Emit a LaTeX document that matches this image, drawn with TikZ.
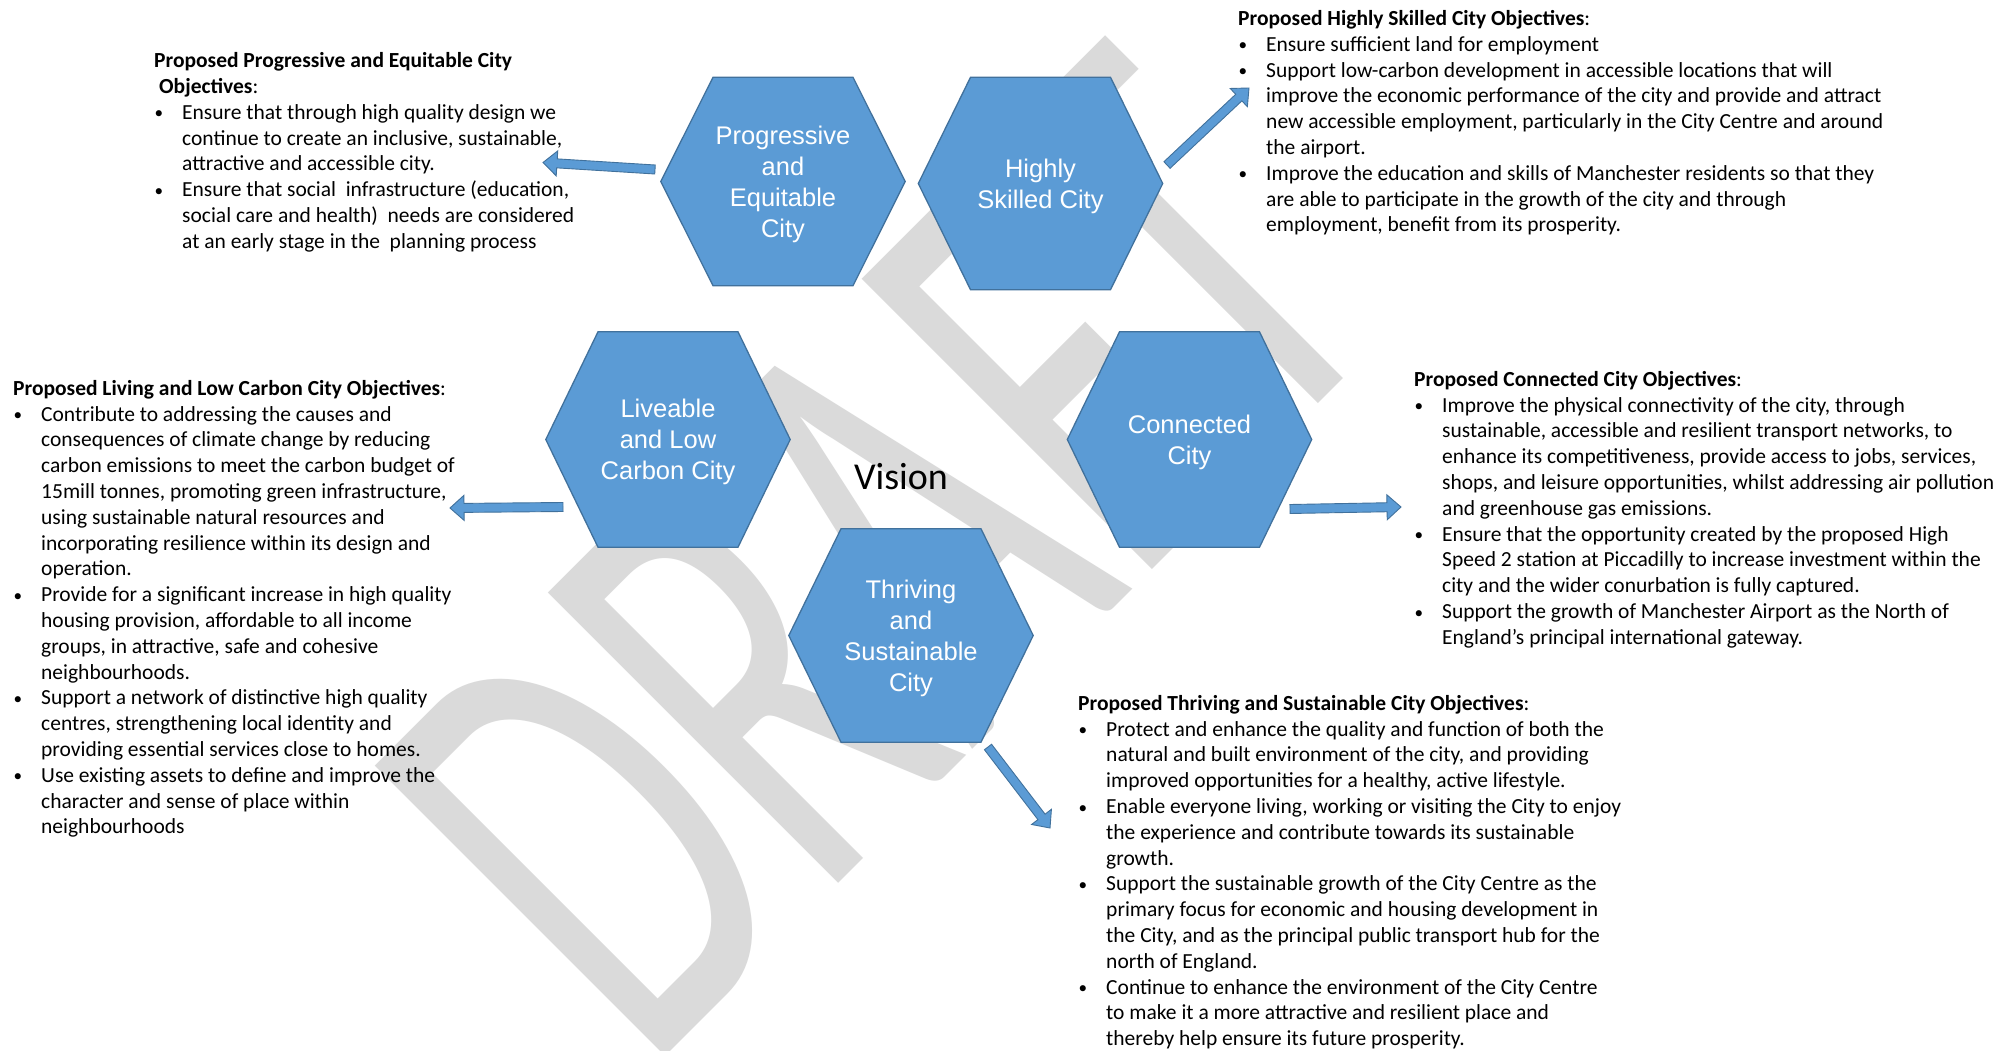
\documentclass[tikz,border=0pt]{standalone}
\usepackage{graphicx}
\usepackage{fontspec}
\setmainfont{Carlito}
\newfontfamily\hexfont{Liberation Sans}
\usetikzlibrary{calc}

\definecolor{hexblue}{HTML}{5B9BD5}
\definecolor{hexedge}{HTML}{41719C}
\definecolor{wmgray}{HTML}{DADADA}

\pgfdeclarelayer{wmlayer}
\pgfdeclarelayer{hexlayer}
\pgfsetlayers{wmlayer,hexlayer,main}

% body text of the objective lists
\newcommand\bodyfont{\fontsize{21.5}{25.8}\selectfont}
\newcommand\bul{\makebox[28pt][l]{\hspace{0.5pt}\raisebox{0.5pt}{\scalebox{0.8}{•}}}}
\newcommand\cnt{\hspace*{28pt}}

% hexagon outline drawn around a named geometry node
\newcommand\hexshape[1]{%
  \begin{pgfonlayer}{hexlayer}
    \draw[hexline] (#1.west) -- ([xshift=-70pt]#1.north) -- ([xshift=70pt]#1.north)
      -- (#1.east) -- ([xshift=70pt]#1.south) -- ([xshift=-70pt]#1.south) -- cycle;
  \end{pgfonlayer}}

% theme hexagon: name, centre, height, label
\newcommand\hexnode[4]{%
  \node[hexgeom, minimum height=#3] (#1) at (#2) {};
  \node[hexlabel] (#1-l) at ([yshift=-2.5pt]#1.center) {#4};
  \hexshape{#1}}

% fat block arrow from tail coordinate #1 to tip coordinate #2
\newcommand\blockarrow[2]{%
  \coordinate (#2-hb) at ($(#2)!14pt!(#1)$);
  \draw[fatarrow] ($(#1)!4.5pt!-90:(#2)$) -- ($(#2-hb)!4.5pt!90:(#1)$)
    -- ($(#2-hb)!12.5pt!90:(#1)$) -- (#2) -- ($(#2-hb)!12.5pt!-90:(#1)$)
    -- ($(#2-hb)!4.5pt!-90:(#1)$) -- ($(#1)!4.5pt!90:(#2)$) -- cycle;}

\tikzset{
  hexline/.style={fill=hexblue, draw=hexedge, line width=1.3pt, line join=miter},
  hexgeom/.style={rectangle, inner sep=0pt, minimum width=244pt},
  hexlabel/.style={inner sep=0pt, align=center, text=white,
    font=\hexfont\fontsize{25.5}{31}\selectfont},
  fatarrow/.style={fill=hexblue, draw=hexedge, line width=0.9pt, line join=miter},
  objtext/.style={anchor=base west, inner sep=0pt, text=black},
}

\begin{document}
\begin{tikzpicture}[x=1pt, y=-1pt]
\useasboundingbox (0,0) rectangle (2012,1051);

% background and watermark
\begin{pgfonlayer}{wmlayer}
  \fill[white] (0,0) rectangle (2012,1051);
  \clip (0,0) rectangle (2012,1051);
  \node[anchor=base west, inner sep=0pt, rotate=45, text=wmgray] (wm) at (646,1076)
    {\fontsize{640}{640}\selectfont\scalebox{0.62}[1]{DRAFT}};
\end{pgfonlayer}

% the five themes
\hexnode{pe}{783,181.5}{208pt}{Progressive\\and\\Equitable\\City}
\hexnode{hs}{1040.5,183.5}{212pt}{Highly\\Skilled City}
\hexnode{lc}{668,439.5}{215pt}{Liveable\\and Low\\Carbon City}
\hexnode{cc}{1189.5,439.5}{215pt}{Connected\\City}
\hexnode{ts}{911,635.5}{213pt}{Thriving\\and\\Sustainable\\City}

\node[font=\fontsize{38}{40}\selectfont, inner sep=0pt] (vis) at (901,477) {Vision};

% objective lists
\node[objtext] (objpe) at (154,67.8) {\bodyfont\parbox[t]{700pt}{%
\textbf{Proposed Progressive and Equitable City}\\
\hspace*{5pt}\textbf{Objectives}:\\
\bul Ensure that through high quality design we\\
\cnt continue to create an inclusive, sustainable,\\
\cnt attractive and accessible city.\\
\bul Ensure that social\ \ infrastructure (education,\\
\cnt social care and health)\ \ needs are considered\\
\cnt at an early stage in the\ \ planning process}};

\node[objtext] (objhs) at (1238,25.5) {\bodyfont\parbox[t]{760pt}{%
\textbf{Proposed Highly Skilled City Objectives}:\\
\bul Ensure sufficient land for employment\\
\bul Support low-carbon development in accessible locations that will\\
\cnt improve the economic performance of the city and provide and attract\\
\cnt new accessible employment, particularly in the City Centre and around\\
\cnt the airport.\\
\bul Improve the education and skills of Manchester residents so that they\\
\cnt are able to participate in the growth of the city and through\\
\cnt employment, benefit from its prosperity.}};

\node[objtext] (objlc) at (13,395.3) {\bodyfont\parbox[t]{700pt}{%
\textbf{Proposed Living and Low Carbon City Objectives}:\\
\bul Contribute to addressing the causes and\\
\cnt consequences of climate change by reducing\\
\cnt carbon emissions to meet the carbon budget of\\
\cnt 15mill tonnes, promoting green infrastructure,\\
\cnt using sustainable natural resources and\\
\cnt incorporating resilience within its design and\\
\cnt operation.\\
\bul Provide for a significant increase in high quality\\
\cnt housing provision, affordable to all income\\
\cnt groups, in attractive, safe and cohesive\\
\cnt neighbourhoods.\\
\bul Support a network of distinctive high quality\\
\cnt centres, strengthening local identity and\\
\cnt providing essential services close to homes.\\
\bul Use existing assets to define and improve the\\
\cnt character and sense of place within\\
\cnt neighbourhoods}};

\node[objtext] (objcc) at (1414,386.3) {\bodyfont\parbox[t]{700pt}{%
\textbf{Proposed Connected City Objectives}:\\
\bul Improve the physical connectivity of the city, through\\
\cnt sustainable, accessible and resilient transport networks, to\\
\cnt enhance its competitiveness, provide access to jobs, services,\\
\cnt shops, and leisure opportunities, whilst addressing air pollution\\
\cnt and greenhouse gas emissions.\\
\bul Ensure that the opportunity created by the proposed High\\
\cnt Speed 2 station at Piccadilly to increase investment within the\\
\cnt city and the wider conurbation is fully captured.\\
\bul Support the growth of Manchester Airport as the North of\\
\cnt England’s principal international gateway.}};

\node[objtext] (objts) at (1078,710.3) {\bodyfont\parbox[t]{700pt}{%
\textbf{Proposed Thriving and Sustainable City Objectives}:\\
\bul Protect and enhance the quality and function of both the\\
\cnt natural and built environment of the city, and providing\\
\cnt improved opportunities for a healthy, active lifestyle.\\
\bul Enable everyone living, working or visiting the City to enjoy\\
\cnt the experience and contribute towards its sustainable\\
\cnt growth.\\
\bul Support the sustainable growth of the City Centre as the\\
\cnt primary focus for economic and housing development in\\
\cnt the City, and as the principal public transport hub for the\\
\cnt north of England.\\
\bul Continue to enhance the environment of the City Centre\\
\cnt to make it a more attractive and resilient place and\\
\cnt thereby help ensure its future prosperity.}};

% arrows from each theme towards its objectives
\coordinate (a1s) at (655,169.5);
\coordinate (a1e) at (543,162.5);
\coordinate (a2s) at (1167,165);
\coordinate (a2e) at (1249,88);
\coordinate (a3s) at (563,507);
\coordinate (a3e) at (450,508);
\coordinate (a4s) at (1290,509);
\coordinate (a4e) at (1401,507);
\coordinate (a5s) at (988,747);
\coordinate (a5e) at (1050,828);
\blockarrow{a1s}{a1e}
\blockarrow{a2s}{a2e}
\blockarrow{a3s}{a3e}
\blockarrow{a4s}{a4e}
\blockarrow{a5s}{a5e}
\end{tikzpicture}
\end{document}
